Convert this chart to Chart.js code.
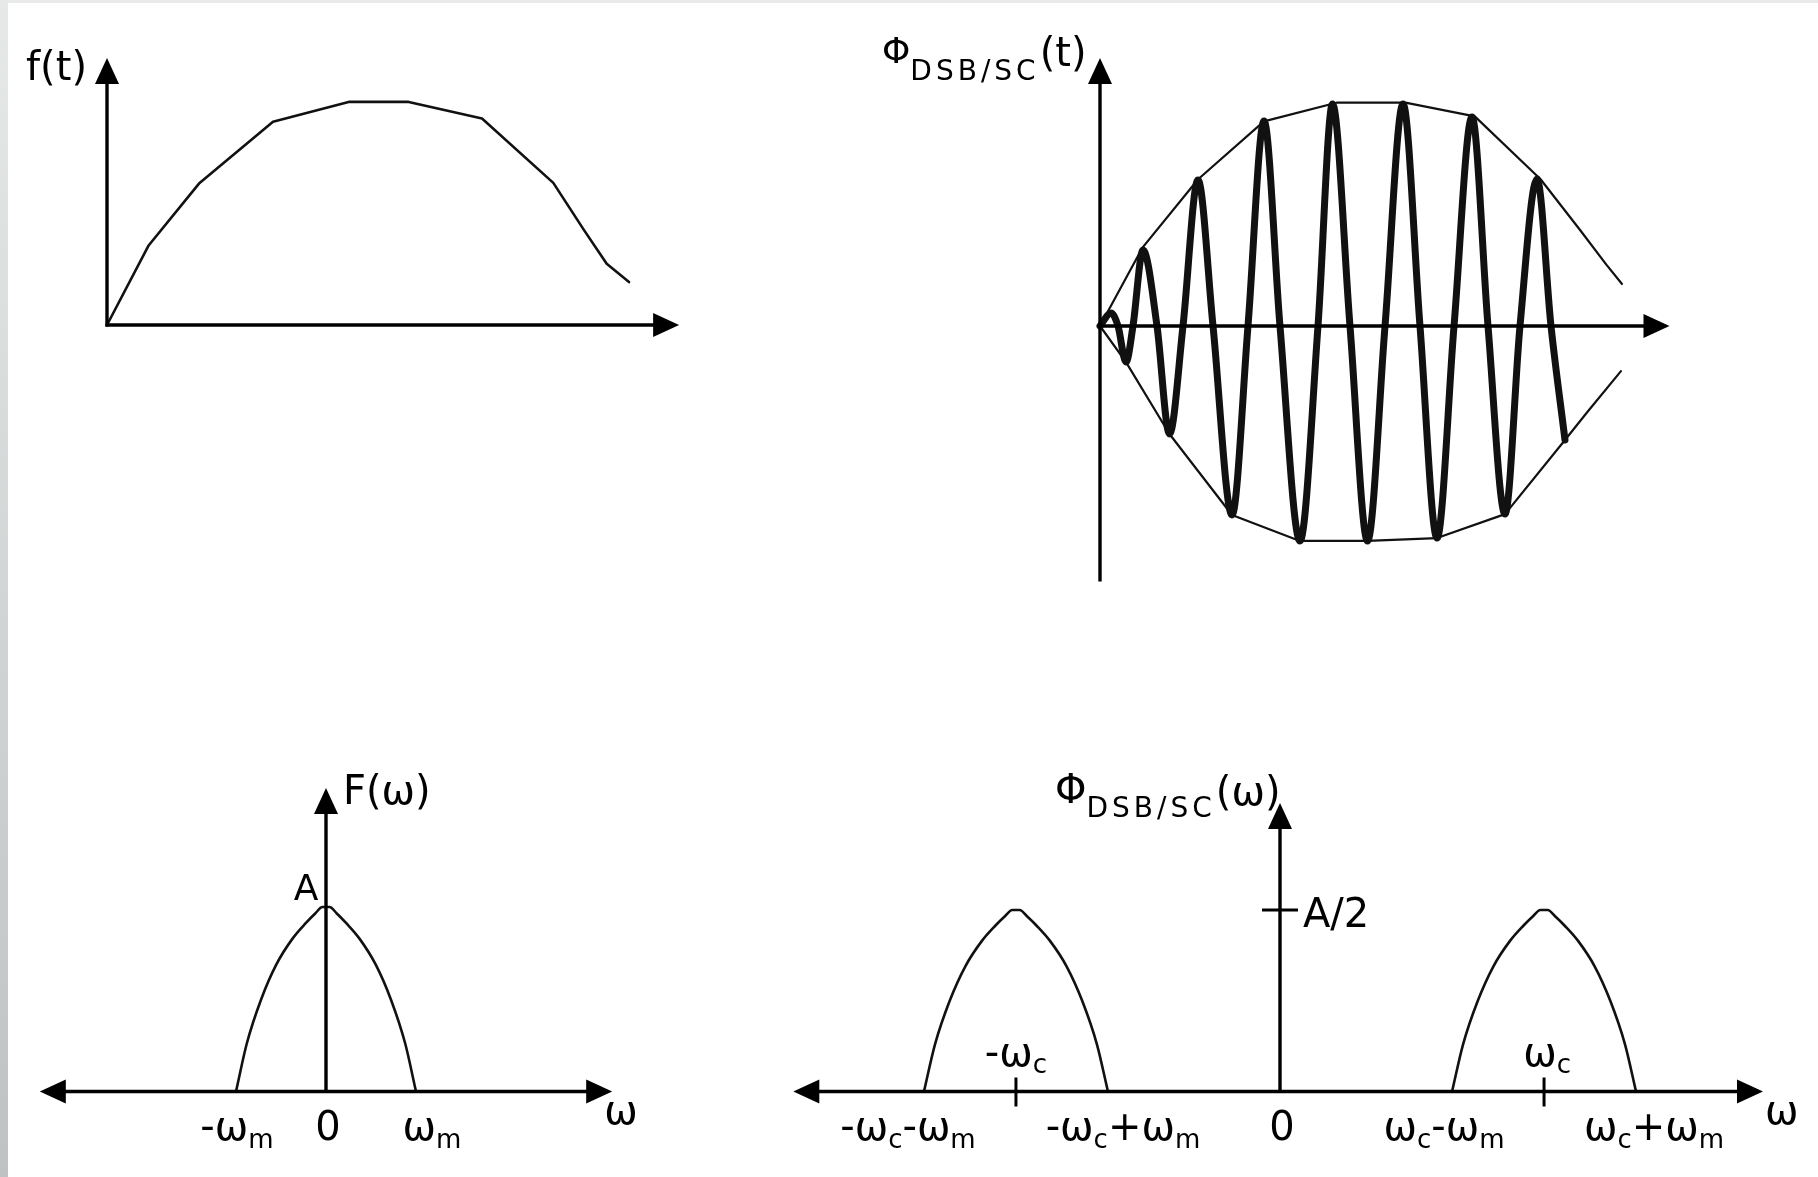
<!DOCTYPE html>
<html><head><meta charset="utf-8">
<script src="https://cdn.jsdelivr.net/npm/chart.js@4/dist/chart.umd.min.js"></script>
<style>
html,body{margin:0;padding:0;background:#fff;}
#wrap{position:relative;width:1818px;height:1177px;overflow:hidden;background:#fff;}
#c{position:absolute;left:0;top:0;width:1818px;height:1177px;}
#lbar{position:absolute;left:0;top:0;width:8px;height:1177px;background:linear-gradient(#e7e9e9,#bec2c2);}
#tbar{position:absolute;left:0;top:0;width:1818px;height:3px;background:#e9ebeb;}
</style></head><body>
<div id="wrap"><canvas id="c" width="1818" height="1177"></canvas><div id="tbar"></div><div id="lbar"></div></div>
<script>
// ---------- data ----------
// f(t): message signal (t in arbitrary units 0..100, amplitude 0..1)
const fT = [0, 7.93, 17.74, 31.80, 46.28, 57.80, 71.84, 85.50, 91.48, 95.73, 100];
const fV = [0, 0.360, 0.646, 0.924, 1.014, 1.014, 0.939, 0.646, 0.428, 0.278, 0.195];

// DSB/SC time signal: envelopes and carrier (extrema and zero crossings)
const envUpT = [0, 8.1, 18.8, 31.4, 45.3, 58.5, 71.8, 84.4, 92.0, 97.0, 100];
const envUpV = [0, 0.355, 0.667, 0.93, 1.015, 1.015, 0.953, 0.667, 0.435, 0.279, 0.191];
const envLoT = [0, 4.98, 13.31, 25.29, 38.31, 51.25, 64.56, 77.59, 89.08, 93.4, 99.8];
const envLoV = [0, -0.164, -0.491, -0.859, -0.977, -0.977, -0.964, -0.855, -0.518, -0.39, -0.205];
const carT = [0, 2.11, 3.45, 4.98, 6.32, 8.24, 10.92, 13.31, 15.90, 18.77, 21.65, 25.29, 28.35, 31.42, 34.48, 38.31,
              41.76, 44.54, 47.89, 51.25, 54.60, 58.05, 61.30, 64.56, 67.82, 71.26, 74.33, 77.59, 80.46, 83.72, 86.40, 89.08];
const carV = [0, 0.059, 0, -0.164, 0, 0.345, 0, -0.491, 0, 0.664, 0, -0.859, 0, 0.932, 0, -0.977,
              0, 1.009, 0, -0.977, 0, 1.009, 0, -0.964, 0, 0.950, 0, -0.855, 0, 0.668, 0, -0.518];

// F(w): spectrum of message (w in units of wm, height in units of A)
const FW = [-1.0, -0.88, -0.72, -0.55, -0.37, -0.22, -0.12, -0.04, 0.04, 0.12, 0.22, 0.37, 0.55, 0.72, 0.88, 1.0];
const FA = [0, 0.26, 0.50, 0.69, 0.83, 0.915, 0.965, 1.0, 1.0, 0.965, 0.915, 0.83, 0.69, 0.50, 0.26, 0];

// DSB/SC spectrum: two lobes of height A/2 at -wc and +wc
const omegaC = 2.87;
const lobeLW = [-3.87, -3.75, -3.59, -3.42, -3.24, -3.09, -2.99, -2.91, -2.83, -2.75, -2.65, -2.50, -2.32, -2.15, -1.99, -1.87];
const lobeRW = [1.87, 1.99, 2.15, 2.32, 2.50, 2.65, 2.75, 2.83, 2.91, 2.99, 3.09, 3.24, 3.42, 3.59, 3.75, 3.87];
const lobeV  = [0, 0.13, 0.25, 0.345, 0.415, 0.458, 0.483, 0.5, 0.5, 0.483, 0.458, 0.415, 0.345, 0.25, 0.13, 0];

// tick labels
const fTickVals = [-1, 0, 1];
const fTickLabels = [[['-ω',40],['m',26,8]], [['0',40]], [['ω',40],['m',26,8]]];
const dTickVals = [-3.87, -1.87, 0, 1.87, 3.87];
const dTickLabels = [
  [['-ω',40],['c',26,8],['-ω',40],['m',26,8]],
  [['-ω',40],['c',26,8],['+ω',40],['m',26,8]],
  [['0',40]],
  [['ω',40],['c',26,8],['-ω',40],['m',26,8]],
  [['ω',40],['c',26,8],['+ω',40],['m',26,8]]
];
const cTickVals = [-omegaC, omegaC];
const cTickLabels = [[['-ω',40],['c',26,7]], [['ω',40],['c',26,7]]];

// ---------- layout (pixels) ----------
const W = 1818, H = 1177;
const panels = [
  {id:1, ox:107,  oy:325,    sx:5.22, sy:220,   xr:[0,109.6],    yr:[0,1.214],     leftArrow:false},
  {id:2, ox:1100, oy:326,    sx:5.22, sy:220,   xr:[0,109.1],    yr:[-1.155,1.218], leftArrow:false},
  {id:3, ox:326,  oy:1091.5, sx:90,   sy:184.5, xr:[-3.18,3.18], yr:[0,1.645],     leftArrow:true},
  {id:4, ox:1280, oy:1091.5, sx:92,   sy:363,   xr:[-5.29,5.25], yr:[0,0.795],     leftArrow:true}
];
const scales = {};
panels.forEach(p => {
  scales['x'+p.id] = {type:'linear', display:false, bounds:'data', min:-p.ox/p.sx, max:(W-p.ox)/p.sx};
  scales['y'+p.id] = {type:'linear', display:false, bounds:'data', min:-(H-p.oy)/p.sy, max:p.oy/p.sy};
});

const xy = (xs, ys) => xs.map((x,i) => ({x:x, y:ys[i]}));
const ds = (data, id, width, mode) => ({
  data: data, xAxisID:'x'+id, yAxisID:'y'+id, borderColor:'#111', borderWidth:width,
  pointRadius:0, fill:false, tension:0, cubicInterpolationMode: mode || 'default',
  borderJoinStyle:'round', borderCapStyle:'round'
});

const FONT = '"DejaVu Sans", Verdana, sans-serif';
const decor = {
  id:'decor',
  afterDatasetsDraw(chart){
    const ctx = chart.ctx, S = chart.scales;
    ctx.save();
    ctx.strokeStyle = '#000'; ctx.fillStyle = '#000';
    const AL = 26, AW = 12;
    function head(x, y, dir){
      ctx.beginPath();
      if (dir==='r'){ ctx.moveTo(x,y); ctx.lineTo(x-AL,y-AW); ctx.lineTo(x-AL,y+AW); }
      if (dir==='l'){ ctx.moveTo(x,y); ctx.lineTo(x+AL,y-AW); ctx.lineTo(x+AL,y+AW); }
      if (dir==='u'){ ctx.moveTo(x,y); ctx.lineTo(x-AW,y+AL); ctx.lineTo(x+AW,y+AL); }
      ctx.closePath(); ctx.fill();
    }
    function seg(x0,y0,x1,y1,w){ ctx.lineWidth=w; ctx.beginPath(); ctx.moveTo(x0,y0); ctx.lineTo(x1,y1); ctx.stroke(); }
    panels.forEach(p => {
      const X = S['x'+p.id], Y = S['y'+p.id];
      const x0 = X.getPixelForValue(p.xr[0]), x1 = X.getPixelForValue(p.xr[1]), xz = X.getPixelForValue(0);
      const y0 = Y.getPixelForValue(p.yr[0]), y1 = Y.getPixelForValue(p.yr[1]), yz = Y.getPixelForValue(0);
      seg(p.leftArrow ? x0+AL-4 : x0 - 1.5, yz, x1-AL+4, yz, 3.6);
      head(x1, yz, 'r');
      if (p.leftArrow) head(x0, yz, 'l');
      seg(xz, y0 + 1.5, xz, y1+AL-4, 3.4);
      head(xz, y1, 'u');
    });
    // rich text: parts = [text, size, dy, letterSpacing]
    function rich(parts, x, y, align){
      let w = 0;
      const meas = q => { ctx.font = q[1]+'px '+FONT; const ls = q[3]||0; return ctx.measureText(q[0]).width + ls*q[0].length; };
      parts.forEach(q => { w += meas(q); });
      let cx = align==='center' ? x - w/2 : (align==='right' ? x - w : x);
      parts.forEach(q => {
        const ls = q[3]||0;
        ctx.font = q[1]+'px '+FONT;
        if (ls) {
          let lx = cx;
          for (const ch of q[0]) { ctx.fillText(ch, lx, y + (q[2]||0)); lx += ctx.measureText(ch).width + ls; }
        } else {
          ctx.fillText(q[0], cx, y + (q[2]||0));
        }
        cx += meas(q);
      });
    }
    ctx.textBaseline = 'alphabetic'; ctx.textAlign = 'left';
    const X1=S.x1, Y1=S.y1, X2=S.x2, Y2=S.y2, X3=S.x3, Y3=S.y3, X4=S.x4, Y4=S.y4;
    // panel 1 title
    rich([['f(t)',40]], X1.getPixelForValue(0)-20, Y1.getPixelForValue(1.214)+22, 'right');
    // panel 2 title
    rich([['Φ',36],['DSB/SC',28,17,4],['(t)',40,3]], X2.getPixelForValue(0)-218, Y2.getPixelForValue(1.218)+5, 'left');
    // panel 3
    rich([['F(ω)',40]], X3.getPixelForValue(0)+17, Y3.getPixelForValue(1.645)+16, 'left');
    rich([['A',36]], X3.getPixelForValue(0)-20, Y3.getPixelForValue(1)-7, 'center');
    const offF = [1, 2, 16];
    fTickVals.forEach((v,i) => rich(fTickLabels[i], X3.getPixelForValue(v)+offF[i], Y3.getPixelForValue(0)+48, 'center'));
    rich([['ω',40]], X3.getPixelForValue(3.18)-8, Y3.getPixelForValue(0)+32, 'left');
    // panel 4
    rich([['Φ',40],['DSB/SC',28,14,4],['(ω)',40,2]], X4.getPixelForValue(0)-225, Y4.getPixelForValue(0.795)+0, 'left');
    const ty = Y4.getPixelForValue(0.5);
    seg(X4.getPixelForValue(0)-18, ty, X4.getPixelForValue(0)+18, ty, 3);
    rich([['A/2',40]], X4.getPixelForValue(0)+23, ty+17, 'left');
    cTickVals.forEach((v,i) => {
      const x = X4.getPixelForValue(v), y = Y4.getPixelForValue(0);
      seg(x, y-14, x, y+15, 3);
      rich(cTickLabels[i], x + (i===0?0:3), y-26, 'center');
    });
    const offD = [-16, 15, 2, -8, 18];
    dTickVals.forEach((v,i) => rich(dTickLabels[i], X4.getPixelForValue(v)+offD[i], Y4.getPixelForValue(0)+48, 'center'));
    rich([['ω',40]], X4.getPixelForValue(5.25)+2, Y4.getPixelForValue(0)+32, 'left');
    ctx.restore();
  }
};

new Chart(document.getElementById('c'), {
  type:'line',
  data:{datasets:[
    ds(xy(fT,fV), 1, 2.6),
    ds(xy(envUpT,envUpV), 2, 2.2),
    ds(xy(envLoT,envLoV), 2, 2.2),
    ds(xy(carT,carV), 2, 7, 'monotone'),
    ds(xy(FW,FA), 3, 2.6, 'monotone'),
    ds(xy(lobeLW,lobeV), 4, 2.6, 'monotone'),
    ds(xy(lobeRW,lobeV), 4, 2.6, 'monotone')
  ]},
  options:{
    responsive:false, animation:false, events:[],
    layout:{padding:0},
    plugins:{legend:{display:false}, tooltip:{enabled:false}, title:{display:false}},
    scales: scales
  },
  plugins:[decor]
});
</script>
</body></html>
